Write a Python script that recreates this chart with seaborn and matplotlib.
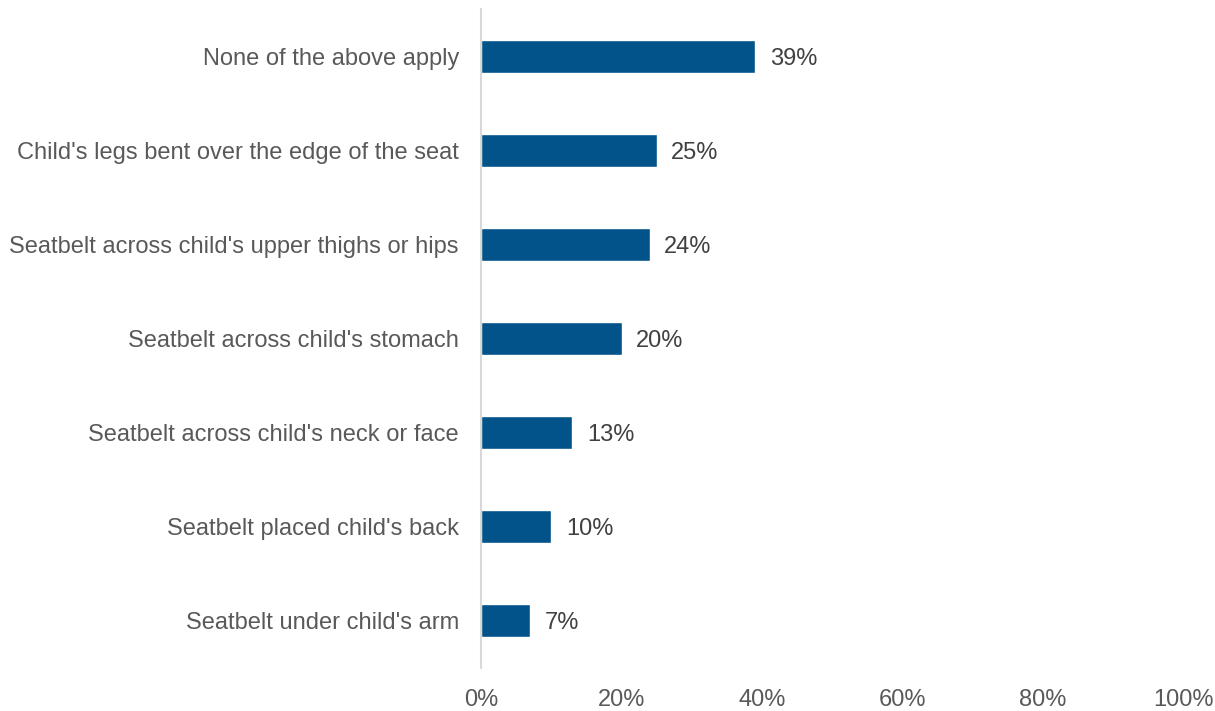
import matplotlib
matplotlib.use("Agg")
import matplotlib.pyplot as plt
import seaborn as sns
import pandas as pd

categories = [
    "None of the above apply",
    "Child's legs bent over the edge of the seat",
    "Seatbelt across child's upper thighs or hips",
    "Seatbelt across child's stomach",
    "Seatbelt across child's neck or face",
    "Seatbelt placed child's back",
    "Seatbelt under child's arm",
]
values = [39, 25, 24, 20, 13, 10, 7]
tick_values = [0, 20, 40, 60, 80, 100]
tick_labels = ["0%", "20%", "40%", "60%", "80%", "100%"]

sns.set_theme(style="white")
plt.rcParams["font.family"] = ["Liberation Sans", "DejaVu Sans"]

df = pd.DataFrame({"category": categories, "value": values})

fig = plt.figure(figsize=(12.15, 7.11), dpi=100)
ax = fig.add_axes([0.396, 0.0605, 0.5777, 0.9265])

sns.barplot(data=df, x="value", y="category", order=categories,
            color="#02538A", saturation=1, width=0.35, ax=ax)

ax.set_xlim(0, 100)
ax.set_ylim(len(categories) - 0.5, -0.5)
ax.set_xticks(tick_values)
ax.set_xticklabels(tick_labels)
ax.set_xlabel("")
ax.set_ylabel("")

for s in ["top", "right", "bottom"]:
    ax.spines[s].set_visible(False)
ax.spines["left"].set_color("#D9D9D9")
ax.spines["left"].set_linewidth(1.5)

ax.tick_params(axis="both", length=0, labelsize=17, colors="#595959")
ax.tick_params(axis="y", pad=16)
ax.tick_params(axis="x", pad=15)

for i, v in enumerate(values):
    ax.text(v + 2.1, i, f"{v}%", va="center_baseline", ha="left",
            fontsize=17, color="#404040")

fig.savefig("out.png", dpi=100)
